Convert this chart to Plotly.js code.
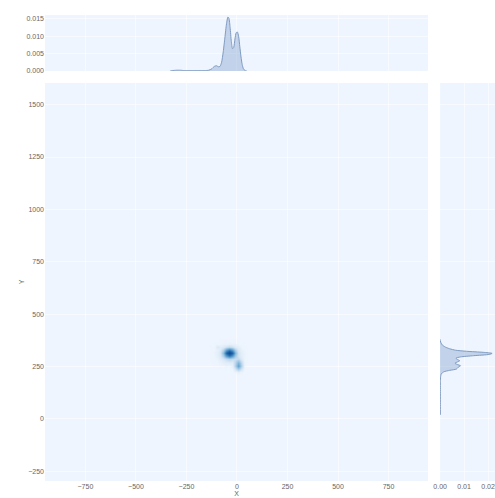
<!DOCTYPE html>
<html>
<head>
<meta charset="utf-8">
<script src="https://cdn.plot.ly/plotly-3.0.1.min.js"></script>
<style>
  html, body { margin: 0; padding: 0; background: #ffffff; }
  #chart { width: 495px; height: 498px; }
</style>
</head>
<body>
<div id="chart"></div>
<script>
// Grid for the joint (X, Y) density surface
const gridX = [-130, -115, -100, -85, -70, -55, -40, -25, -10, 5, 20, 35, 50];
const gridY = [210, 225, 240, 255, 270, 285, 300, 315, 330, 345, 360, 375];
const density2d = [
  [0, 0, 0, 0, 0, 0, 0, 0, 0, 0.01, 0, 0, 0],
  [0, 0, 0, 0, 0, 0, 0, 0, 0.03, 0.06, 0.03, 0, 0],
  [0, 0, 0, 0, 0, 0.01, 0.01, 0.02, 0.13, 0.27, 0.13, 0.02, 0],
  [0, 0.01, 0.01, 0.02, 0.02, 0.03, 0.03, 0.05, 0.25, 0.51, 0.23, 0.03, 0],
  [0.01, 0.01, 0.02, 0.03, 0.05, 0.06, 0.07, 0.07, 0.22, 0.41, 0.19, 0.03, 0.01],
  [0.01, 0.02, 0.03, 0.06, 0.11, 0.17, 0.21, 0.18, 0.16, 0.18, 0.09, 0.02, 0.01],
  [0.01, 0.02, 0.05, 0.10, 0.25, 0.53, 0.70, 0.53, 0.26, 0.12, 0.06, 0.02, 0.01],
  [0.01, 0.03, 0.05, 0.12, 0.36, 0.85, 1.15, 0.85, 0.36, 0.12, 0.05, 0.03, 0.01],
  [0.01, 0.02, 0.04, 0.09, 0.23, 0.51, 0.68, 0.51, 0.23, 0.09, 0.04, 0.02, 0.01],
  [0.01, 0.01, 0.10, 0.05, 0.08, 0.14, 0.18, 0.14, 0.08, 0.05, 0.02, 0.01, 0.01],
  [0, 0.01, 0.01, 0.02, 0.03, 0.03, 0.04, 0.03, 0.03, 0.02, 0.01, 0.01, 0],
  [0, 0, 0, 0.01, 0.01, 0.01, 0.01, 0.01, 0.01, 0.01, 0, 0, 0]
];

// Marginal density of X
const margX = [-330, -320, -300, -280, -260, -240, -220, -200, -180, -160, -140, -125, -112, -102, -92, -84, -76, -68, -60, -52, -45, -40, -34, -28, -22, -16, -10, -4, 2, 8, 14, 20, 26, 32, 40, 48];
const margXDensity = [0, 0.0001, 0.0002, 0.0002, 0.0001, 0.0001, 0.0001, 0.0001, 0.0001, 0.0001, 0.0002, 0.0006, 0.0013, 0.0015, 0.0012, 0.0013, 0.0025, 0.0055, 0.0095, 0.0135, 0.0155, 0.0152, 0.0125, 0.0085, 0.0064, 0.0068, 0.0092, 0.0110, 0.0112, 0.0100, 0.0070, 0.0040, 0.0018, 0.0006, 0.0001, 0];

// Marginal density of Y
const margY = [20, 60, 100, 140, 180, 200, 215, 225, 232, 238, 246, 254, 260, 266, 272, 278, 284, 290, 296, 302, 308, 313, 318, 323, 328, 335, 343, 352, 362, 372, 380];
const margYDensity = [0.0001, 0.0001, 0.0001, 0.0001, 0.0001, 0.0002, 0.0005, 0.0015, 0.0040, 0.0068, 0.0075, 0.0085, 0.0072, 0.0062, 0.0072, 0.0082, 0.0072, 0.0066, 0.0085, 0.0140, 0.0205, 0.0217, 0.0180, 0.0110, 0.0065, 0.0040, 0.0022, 0.0010, 0.0004, 0.0001, 0];

const titleText = 'Field Location Distribution by Running Angle';

const bg = '#eef5fe';
const grid = 'rgba(255,255,255,0.55)';
const labelFont = { family: 'Liberation Sans, Arial, sans-serif', size: 7, color: '#666666' };
const fillLine = '#7f9bc2';
const fillArea = 'rgba(140,168,210,0.45)';

const traces = [
  {
    type: 'heatmap',
    x: gridX, y: gridY, z: density2d,
    xaxis: 'x', yaxis: 'y',
    zsmooth: 'best', zmin: 0, zmax: 1.15,
    showscale: false, hoverinfo: 'skip',
    colorscale: [
      [0, 'rgba(238,245,254,0)'],
      [0.04, 'rgba(222,235,247,0.6)'],
      [0.15, '#c6dbef'],
      [0.3, '#8fbfdf'],
      [0.5, '#4f94c8'],
      [0.7, '#2468ad'],
      [1, '#0b4a8f']
    ]
  },
  {
    type: 'scatter', mode: 'lines',
    x: margX, y: margXDensity,
    xaxis: 'x2', yaxis: 'y2',
    fill: 'tozeroy', fillcolor: fillArea,
    line: { color: fillLine, width: 1, shape: 'spline', smoothing: 0.6 },
    hoverinfo: 'skip'
  },
  {
    type: 'scatter', mode: 'lines',
    x: margYDensity, y: margY,
    xaxis: 'x3', yaxis: 'y3',
    fill: 'tozerox', fillcolor: fillArea,
    line: { color: fillLine, width: 1, shape: 'spline', smoothing: 0.6 },
    hoverinfo: 'skip'
  }
];

const axisBase = {
  showgrid: true, gridcolor: grid, gridwidth: 1,
  zeroline: false, showline: false, ticks: '',
  tickfont: labelFont
};

const layout = {
  width: 495, height: 498,
  margin: { l: 45, r: 0, t: 15, b: 17 },
  paper_bgcolor: '#ffffff',
  plot_bgcolor: bg,
  showlegend: false,
  hovermode: false,
  xaxis: Object.assign({}, axisBase, {
    domain: [0, 0.851], range: [-950, 945], dtick: 250, tick0: 0,
    anchor: 'y',
    title: { text: 'X', font: labelFont, standoff: 0 }
  }),
  yaxis: Object.assign({}, axisBase, {
    domain: [0, 0.854], range: [-296, 1603], dtick: 250, tick0: 0,
    anchor: 'x',
    title: { text: 'Y', font: labelFont, standoff: 2 }
  }),
  xaxis2: Object.assign({}, axisBase, {
    domain: [0, 0.851], range: [-950, 945], dtick: 250, tick0: 0,
    anchor: 'y2', showticklabels: false
  }),
  yaxis2: Object.assign({}, axisBase, {
    domain: [0.880, 1], range: [0, 0.0161], dtick: 0.005, tick0: 0,
    tickformat: '.3f', anchor: 'x2'
  }),
  xaxis3: Object.assign({}, axisBase, {
    domain: [0.878, 1], range: [0, 0.0229], dtick: 0.01, tick0: 0,
    tickformat: '.2f', anchor: 'y3'
  }),
  yaxis3: Object.assign({}, axisBase, {
    domain: [0, 0.854], range: [-296, 1603], dtick: 250, tick0: 0,
    anchor: 'x3', showticklabels: false
  }),
  annotations: [
    {
      // heading sits mostly above the top edge; a trailing blank line keeps its box on the page
      text: titleText + '<br>&nbsp;',
      xref: 'paper', yref: 'paper',
      x: 0.973, xanchor: 'right', align: 'right',
      y: 0.956, yanchor: 'bottom',
      showarrow: false,
      font: { family: 'DejaVu Sans, sans-serif', size: 26, color: '#111111' }
    }
  ]
};

Plotly.newPlot('chart', traces, layout, { displayModeBar: false, staticPlot: true });
</script>
</body>
</html>
